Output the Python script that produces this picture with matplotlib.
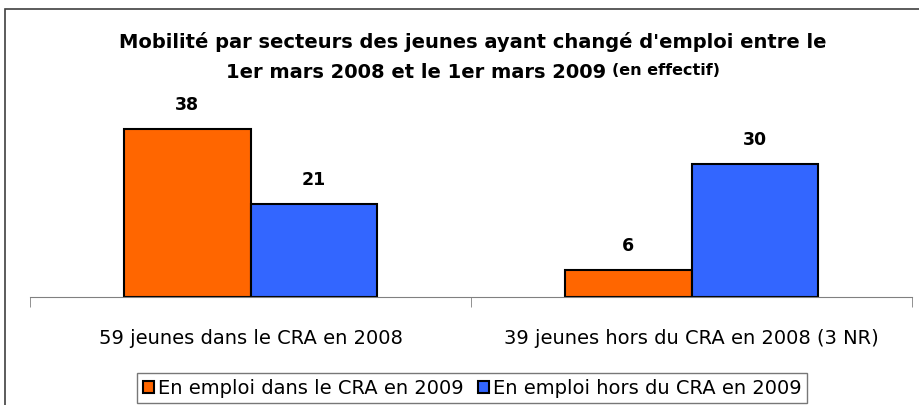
import matplotlib
matplotlib.use("Agg")
import matplotlib.pyplot as plt
from matplotlib.patches import Rectangle
import numpy as np

plt.rcParams['font.family'] = ['DejaVu Sans']

categories = ["59 jeunes dans le CRA en 2008", "39 jeunes hors du CRA en 2008 (3 NR)"]
series_names = ["En emploi dans le CRA en 2009", "En emploi hors du CRA en 2009"]
dans_cra = [38, 6]
hors_cra = [21, 30]
colors = ["#FF6600", "#3366FF"]

W, H = 919, 406
fig = plt.figure(figsize=(W / 100, H / 100), dpi=100)
ax = fig.add_axes([30 / W, (H - 298) / H, (912 - 30) / W, (298 - 100) / H])

x = np.arange(len(categories))
bw = 0.286
for vals, off, col, name in [(dans_cra, -bw / 2, colors[0], series_names[0]),
                             (hors_cra, bw / 2, colors[1], series_names[1])]:
    bars = ax.bar(x + off, vals, bw, color=col, edgecolor="black", linewidth=1.5, label=name)
    for b, v in zip(bars, vals):
        ax.annotate(str(v), (b.get_x() + b.get_width() / 2, v), xytext=(0, 18),
                    textcoords="offset points", ha="center", va="center",
                    fontsize=12.5, fontweight="bold")

ax.set_xlim(-0.5, 1.5)
ax.set_ylim(0, 44.8)
ax.set_yticks([])
for s in ["top", "right", "left"]:
    ax.spines[s].set_visible(False)
ax.spines["bottom"].set_color("#808080")
ax.set_xticks(x)
ax.set_xticklabels(categories, fontsize=14)
ax.tick_params(axis="x", which="major", length=0, pad=22)
ax.set_xticks([-0.5, 0.5, 1.5], minor=True)
ax.tick_params(axis="x", which="minor", length=7, color="#808080")

# titre
fig.text(473 / W, 1 - 42 / H, "Mobilité par secteurs des jeunes ayant changé d'emploi entre le",
         ha="center", va="center", fontsize=14, fontweight="bold")
t_a = fig.text(0, 1 - 72 / H, "1er mars 2008 et le 1er mars 2009 ", ha="left", va="center",
               fontsize=14, fontweight="bold")
t_b = fig.text(0, 1 - 71 / H, "(en effectif)", ha="left", va="center",
               fontsize=11.5, fontweight="bold")
r = fig.canvas.get_renderer()
wa = t_a.get_window_extent(r).width
wb = t_b.get_window_extent(r).width
x0 = 473 - (wa + wb) / 2
t_a.set_x(x0 / W)
t_b.set_x((x0 + wa) / W)

leg = fig.legend(loc="center", bbox_to_anchor=(472 / W, 1 - 389 / H), ncol=2, fontsize=14,
                 frameon=True, fancybox=False, edgecolor="#555555", handlelength=0.57,
                 handleheight=0.57, handletextpad=0.2, columnspacing=0.75, borderpad=0.3,
                 borderaxespad=0)
leg.get_frame().set_linewidth(1)

fig.add_artist(Rectangle((5 / W, -0.1), 1.2, 1 - 10 / H + 0.1, transform=fig.transFigure,
                         fill=False, edgecolor="#404040", linewidth=1.2))

fig.savefig("out.png", dpi=100)
